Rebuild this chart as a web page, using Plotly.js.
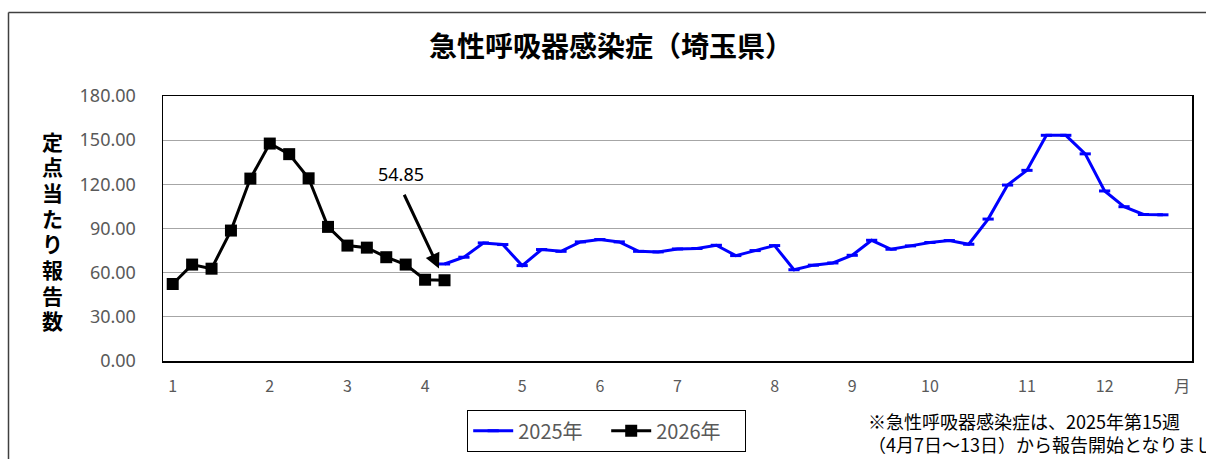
<!DOCTYPE html>
<html>
<head>
<meta charset="utf-8">
<script src="https://cdn.plot.ly/plotly-3.0.1.min.js"></script>
<style>html,body{margin:0;padding:0;background:#fff;}#chart{width:1206px;height:459px;}</style>
</head>
<body>
<div id="chart"></div>
<script>
// ---- data ----
const chartTitle = "急性呼吸器感染症（埼玉県）";
const yAxisTitle = "定点当たり報告数";
const footnoteLines = ["※急性呼吸器感染症は、2025年第15週", "（4月7日～13日）から報告開始となりました"];

const weeks2025 = [15,16,17,18,19,20,21,22,23,24,25,26,27,28,29,30,31,32,33,34,35,36,37,38,39,40,41,42,43,44,45,46,47,48,49,50,51,52];
const values2025 = [65.9,70.5,80.2,79.1,64.8,75.7,74.5,80.9,82.5,80.9,74.5,74.1,76.1,76.4,78.6,71.6,75.0,78.4,62.0,65.1,66.6,71.8,82.0,75.9,78.2,80.5,81.8,79.3,96.4,119.5,129.5,153.3,153.3,140.7,115.5,104.8,99.5,99.3];

const weeks2026 = [1,2,3,4,5,6,7,8,9,10,11,12,13,14,15];
const values2026 = [52.3,65.5,62.7,88.6,123.9,147.7,140.5,124.1,91.1,78.4,77.0,70.5,65.5,55.2,54.85];

const monthTickWeeks = [1,6,10,14,19,23,27,32,36,40,45,49,53];
const monthTickText = ["1","2","3","4","5","6","7","8","9","10","11","12","月"];
const yTicks = [0,30,60,90,120,150,180];

const series2025Name = "2025年";
const series2026Name = "2026年";

// ---- chart ----
const jp = '"Noto Sans CJK JP", "Noto Sans", sans-serif';
const lastIdx = values2026.length - 1;
const PL = 163, PW = 1029, PB = 361, PH = 265;
const px2x = p => (p - PL) / PW;
const px2y = p => (PB - p) / PH;

const traces = [
  {
    x: weeks2025, y: values2025, name: series2025Name, type: 'scatter', mode: 'lines+markers',
    line: {color: '#0000ff', width: 3},
    marker: {symbol: 'line-ew', size: 8, color: '#0000ff', line: {color: '#0000ff', width: 3}}
  },
  {
    x: weeks2026, y: values2026, name: series2026Name, type: 'scatter', mode: 'lines+markers',
    line: {color: '#000000', width: 3},
    marker: {symbol: 'square', size: 12, color: '#000000'}
  }
];

// vertical stacked y-axis title, one character per line
const titleChars = yAxisTitle.split('');
const charStep = 25.7;
const charTop = 140.5;
const yTitleAnns = titleChars.map((c, i) => ({
  xref: 'paper', yref: 'paper', x: px2x(52), y: px2y(charTop + i * charStep),
  text: c, showarrow: false, xanchor: 'center', yanchor: 'middle',
  font: {family: jp, size: 21, color: '#000000', weight: 'bold'}
}));

const layout = {
  width: 1206, height: 459,
  margin: {l: PL, r: 1206 - PL - PW, t: 96, b: 459 - PB, autoexpand: false},
  paper_bgcolor: '#ffffff', plot_bgcolor: '#ffffff',
  font: {family: jp, color: '#595959'},
  title: {
    text: chartTitle, x: 611/1206, xanchor: 'center', xref: 'container',
    y: 1 - 47/459, yanchor: 'middle', yref: 'container',
    font: {family: jp, size: 28, color: '#000000', weight: 'bold'}
  },
  showlegend: true,
  legend: {
    orientation: 'h', x: px2x(467), xanchor: 'left', y: px2y(410), yanchor: 'top',
    bordercolor: '#000000', borderwidth: 1.2, bgcolor: '#ffffff',
    font: {family: jp, size: 20, color: '#595959'},
    itemwidth: 40, entrywidth: 83
  },
  xaxis: {
    type: 'linear', range: [0.5, 53.5], showgrid: false, zeroline: false,
    tickmode: 'array', tickvals: monthTickWeeks, ticktext: monthTickText,
    ticks: '', ticklabelstandoff: 10,
    tickfont: {family: '"Liberation Sans Narrow", "Noto Sans CJK JP", sans-serif', size: 16, color: '#595959'},
    showline: true, linecolor: '#000000', linewidth: 1.5, mirror: true
  },
  yaxis: {
    range: [0, 180], tickmode: 'array', tickvals: yTicks, tickformat: '.2f',
    showgrid: true, gridcolor: '#a6a6a6', gridwidth: 1.3, zeroline: false,
    ticks: '', ticklabelstandoff: 22,
    tickfont: {family: '"Noto Sans", sans-serif', size: 18, color: '#595959'},
    showline: true, linecolor: '#000000', linewidth: 1.5, mirror: true
  },
  annotations: yTitleAnns.concat([
    {
      x: weeks2026[lastIdx], y: values2026[lastIdx], xref: 'x', yref: 'y',
      text: '', showarrow: true, ax: -41, ay: -87, axref: 'pixel', ayref: 'pixel',
      arrowhead: 2, arrowsize: 1, arrowwidth: 3, arrowcolor: '#000000', standoff: 13
    },
    {
      x: weeks2026[lastIdx], y: values2026[lastIdx], xref: 'x', yref: 'y',
      text: values2026[lastIdx].toFixed(2), showarrow: false, xshift: -44, yshift: 106,
      font: {family: '"Noto Sans", sans-serif', size: 18, color: '#000000'}
    },
    {
      xref: 'paper', yref: 'paper', x: px2x(866), y: px2y(406), xanchor: 'left', yanchor: 'top', align: 'left',
      text: footnoteLines.join('<br>'), showarrow: false,
      font: {family: jp, size: 18, color: '#000000'}
    }
  ]),
  shapes: [
    {type: 'line', xref: 'paper', yref: 'paper', x0: px2x(8.5), x1: px2x(1206),
     y0: px2y(12.5), y1: px2y(12.5), line: {color: '#404040', width: 1.5}},
    {type: 'line', xref: 'paper', yref: 'paper', x0: px2x(8.5), x1: px2x(8.5),
     y0: px2y(12.5), y1: px2y(459), line: {color: '#404040', width: 1.5}}
  ]
};

Plotly.newPlot('chart', traces, layout, {displayModeBar: false, staticPlot: true});
</script>
</body>
</html>
